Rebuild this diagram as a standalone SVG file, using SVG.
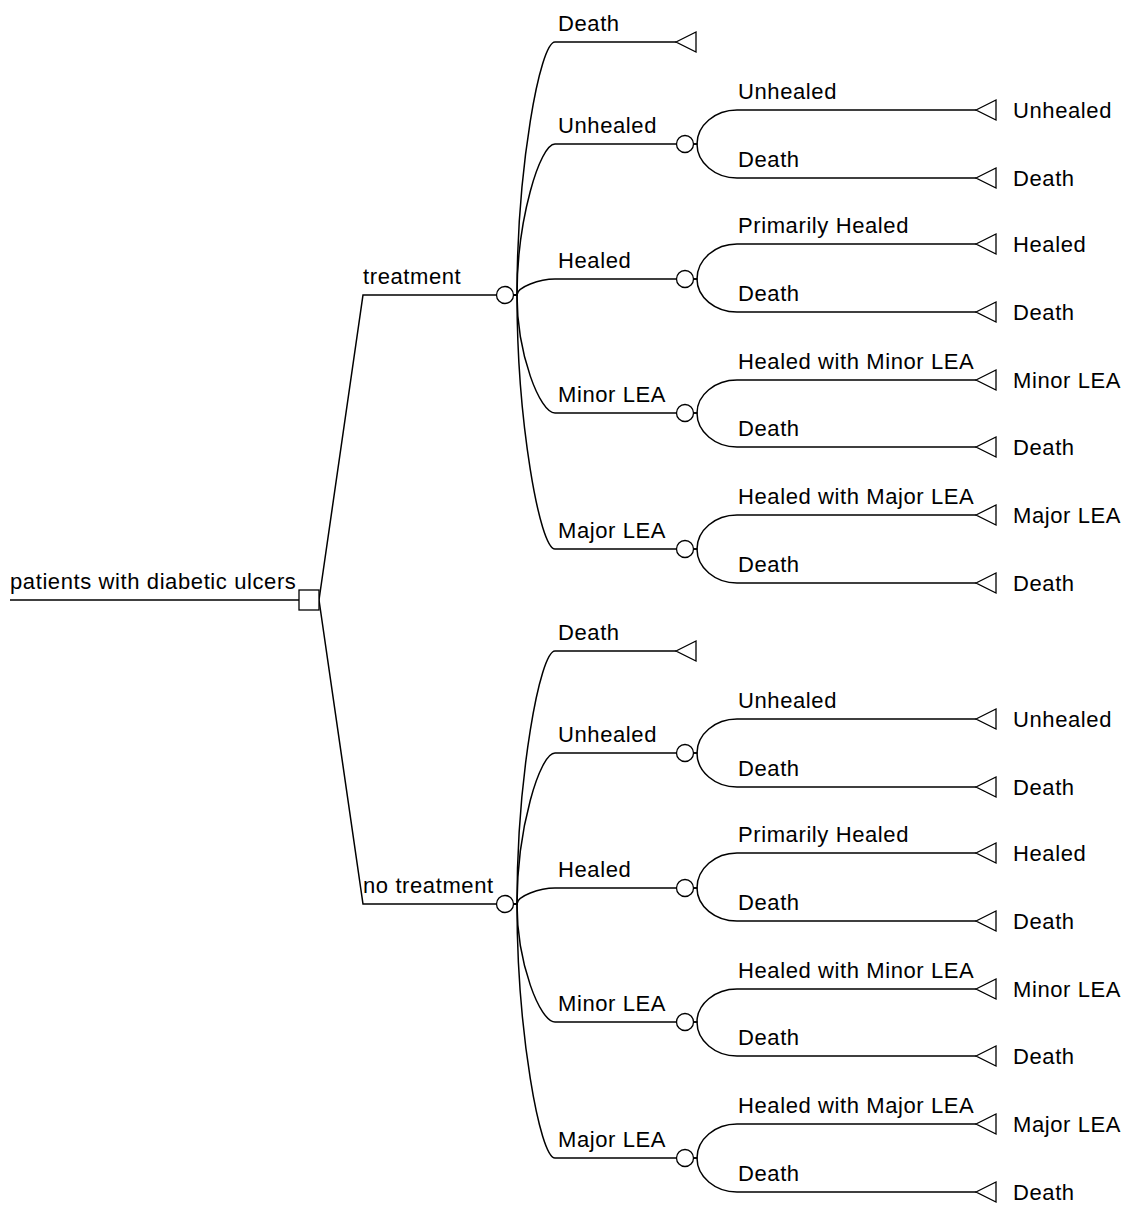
<svg xmlns="http://www.w3.org/2000/svg" width="1128" height="1205" viewBox="0 0 1128 1205">
<style>
.ln{fill:none;stroke:#000;stroke-width:1.5}
.nd{fill:#fff;stroke:#000;stroke-width:1.3}
text{font-family:"Liberation Sans",Arial,sans-serif;font-size:22px;letter-spacing:0.6px;fill:#000}
.tl{dominant-baseline:auto}
</style>
<defs>
<circle id="ch" r="8.5" class="nd"/>
<polygon id="tm" points="0,0 20,-10 20,10" class="nd"/>
<polygon id="tmr" points="0,0 20,-10 20,10" class="nd"/>
</defs>
<rect width="1128" height="1205" fill="#fff"/>
<g id="connectors">
<path class="ln" d="M10,600 H299"/>
<path class="ln" d="M319,600 L363,295 H496.5"/>
<path class="ln" d="M319,600 L363,904 H496.5"/>
<!-- treatment branches -->
<path class="ln" d="M513.5,295 H517 C517,168.5 539.8,42 555,42 H676"/>
<path class="ln" d="M513.5,295 H517 C517,219.5 539.8,144 555,144 H676.5"/>
<path class="ln" d="M513.5,295 H517 C517,287 539.8,279 555,279 H676.5"/>
<path class="ln" d="M513.5,295 H517 C517,354 539.8,413 555,413 H676.5"/>
<path class="ln" d="M513.5,295 H517 C517,422 539.8,549 555,549 H676.5"/>
<!-- no treatment branches -->
<path class="ln" d="M513.5,904 H517 C517,777.5 539.8,651 555,651 H676"/>
<path class="ln" d="M513.5,904 H517 C517,828.5 539.8,753 555,753 H676.5"/>
<path class="ln" d="M513.5,904 H517 C517,896 539.8,888 555,888 H676.5"/>
<path class="ln" d="M513.5,904 H517 C517,963 539.8,1022 555,1022 H676.5"/>
<path class="ln" d="M513.5,904 H517 C517,1031 539.8,1158 555,1158 H676.5"/>
<!-- sub branches treatment -->
<path class="ln" d="M693.5,144 H697 C697,125.3 715,110 737,110 H976"/>
<path class="ln" d="M693.5,144 H697 C697,162.7 715,178 737,178 H976"/>
<path class="ln" d="M693.5,279 H697 C697,259.8 715,244 737,244 H976"/>
<path class="ln" d="M693.5,279 H697 C697,297.2 715,312 737,312 H976"/>
<path class="ln" d="M693.5,413 H697 C697,394.9 715,380 737,380 H976"/>
<path class="ln" d="M693.5,413 H697 C697,431.7 715,447 737,447 H976"/>
<path class="ln" d="M693.5,549 H697 C697,530.3 715,515 737,515 H976"/>
<path class="ln" d="M693.5,549 H697 C697,567.7 715,583 737,583 H976"/>
<!-- sub branches no treatment -->
<path class="ln" d="M693.5,753 H697 C697,734.3 715,719 737,719 H976"/>
<path class="ln" d="M693.5,753 H697 C697,771.7 715,787 737,787 H976"/>
<path class="ln" d="M693.5,888 H697 C697,868.8 715,853 737,853 H976"/>
<path class="ln" d="M693.5,888 H697 C697,906.2 715,921 737,921 H976"/>
<path class="ln" d="M693.5,1022 H697 C697,1003.9 715,989 737,989 H976"/>
<path class="ln" d="M693.5,1022 H697 C697,1040.7 715,1056 737,1056 H976"/>
<path class="ln" d="M693.5,1158 H697 C697,1139.3 715,1124 737,1124 H976"/>
<path class="ln" d="M693.5,1158 H697 C697,1176.7 715,1192 737,1192 H976"/>
<g id="branch-labels">
<text x="10" y="589">patients with diabetic ulcers</text>
<text x="363" y="284">treatment</text>
<text x="363" y="893">no treatment</text>
<text x="558" y="31">Death</text>
<text x="558" y="133">Unhealed</text>
<text x="558" y="268">Healed</text>
<text x="558" y="402">Minor LEA</text>
<text x="558" y="538">Major LEA</text>
<text x="558" y="640">Death</text>
<text x="558" y="742">Unhealed</text>
<text x="558" y="877">Healed</text>
<text x="558" y="1011">Minor LEA</text>
<text x="558" y="1147">Major LEA</text>
<text x="738" y="99">Unhealed</text>
<text x="738" y="167">Death</text>
<text x="738" y="233">Primarily Healed</text>
<text x="738" y="301">Death</text>
<text x="738" y="369">Healed with Minor LEA</text>
<text x="738" y="436">Death</text>
<text x="738" y="504">Healed with Major LEA</text>
<text x="738" y="572">Death</text>
<text x="738" y="708">Unhealed</text>
<text x="738" y="776">Death</text>
<text x="738" y="842">Primarily Healed</text>
<text x="738" y="910">Death</text>
<text x="738" y="978">Healed with Minor LEA</text>
<text x="738" y="1045">Death</text>
<text x="738" y="1113">Healed with Major LEA</text>
<text x="738" y="1181">Death</text>
</g>
</g>
<g id="root"><rect x="299" y="590" width="20" height="20" class="nd"/></g>
<g id="treatment"><use href="#ch" x="505" y="295"/></g>
<g id="no-treatment"><use href="#ch" x="505" y="904"/></g>
<g id="t-death"><use href="#tm" x="676" y="42"/></g>
<g id="t-unhealed"><use href="#ch" x="685" y="144"/></g>
<g id="t-healed"><use href="#ch" x="685" y="279"/></g>
<g id="t-minor"><use href="#ch" x="685" y="413"/></g>
<g id="t-major"><use href="#ch" x="685" y="549"/></g>
<g id="n-death"><use href="#tm" x="676" y="651"/></g>
<g id="n-unhealed"><use href="#ch" x="685" y="753"/></g>
<g id="n-healed"><use href="#ch" x="685" y="888"/></g>
<g id="n-minor"><use href="#ch" x="685" y="1022"/></g>
<g id="n-major"><use href="#ch" x="685" y="1158"/></g>
<g id="t-unhealed-unhealed"><use href="#tm" x="976" y="110"/><text x="1013" y="118">Unhealed</text></g>
<g id="t-unhealed-death"><use href="#tm" x="976" y="178"/><text x="1013" y="186">Death</text></g>
<g id="t-healed-healed"><use href="#tm" x="976" y="244"/><text x="1013" y="252">Healed</text></g>
<g id="t-healed-death"><use href="#tm" x="976" y="312"/><text x="1013" y="320">Death</text></g>
<g id="t-minor-minor"><use href="#tm" x="976" y="380"/><text x="1013" y="388">Minor LEA</text></g>
<g id="t-minor-death"><use href="#tm" x="976" y="447"/><text x="1013" y="455">Death</text></g>
<g id="t-major-major"><use href="#tm" x="976" y="515"/><text x="1013" y="523">Major LEA</text></g>
<g id="t-major-death"><use href="#tm" x="976" y="583"/><text x="1013" y="591">Death</text></g>
<g id="n-unhealed-unhealed"><use href="#tm" x="976" y="719"/><text x="1013" y="727">Unhealed</text></g>
<g id="n-unhealed-death"><use href="#tm" x="976" y="787"/><text x="1013" y="795">Death</text></g>
<g id="n-healed-healed"><use href="#tm" x="976" y="853"/><text x="1013" y="861">Healed</text></g>
<g id="n-healed-death"><use href="#tm" x="976" y="921"/><text x="1013" y="929">Death</text></g>
<g id="n-minor-minor"><use href="#tm" x="976" y="989"/><text x="1013" y="997">Minor LEA</text></g>
<g id="n-minor-death"><use href="#tm" x="976" y="1056"/><text x="1013" y="1064">Death</text></g>
<g id="n-major-major"><use href="#tm" x="976" y="1124"/><text x="1013" y="1132">Major LEA</text></g>
<g id="n-major-death"><use href="#tm" x="976" y="1192"/><text x="1013" y="1200">Death</text></g>
</svg>
